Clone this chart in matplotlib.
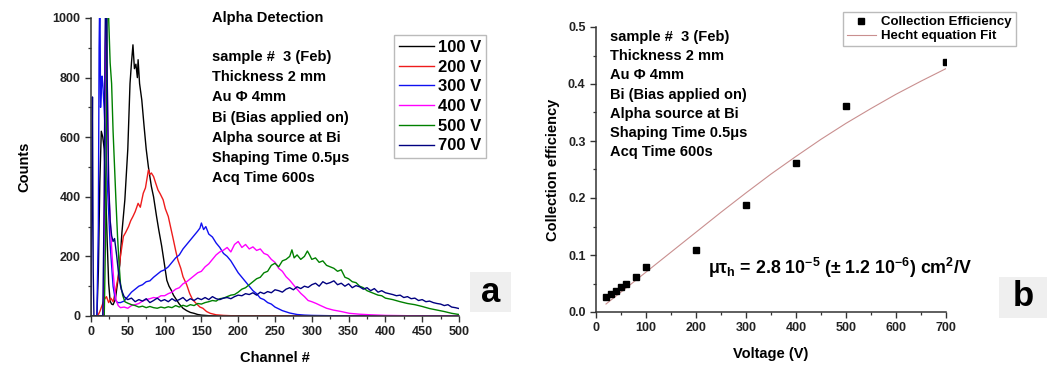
import matplotlib
matplotlib.use("Agg")
import matplotlib.pyplot as plt
from matplotlib.ticker import MultipleLocator, FormatStrFormatter
from matplotlib.patches import Rectangle

plt.rcParams['font.family'] = ['Liberation Sans', 'DejaVu Sans']
plt.rcParams['font.weight'] = 'bold'
plt.rcParams['mathtext.fontset'] = 'custom'
plt.rcParams['mathtext.rm'] = 'Liberation Sans:bold'
plt.rcParams['mathtext.bf'] = 'Liberation Sans:bold'
plt.rcParams['mathtext.it'] = 'Liberation Sans:bold'
plt.rcParams['mathtext.default'] = 'bf'

# ---------------- Panel a: spectra ----------------
ch_100 = [0, 5, 8, 10, 12, 14, 16, 18, 20, 22, 24, 26, 28, 30, 33, 36, 39, 42, 46, 50, 53, 55, 57, 59, 61,
          63, 64, 66, 69, 72, 75, 78, 82, 85, 89, 92, 96, 100, 103, 106, 109, 112, 116, 120, 125, 130,
          135, 140, 145, 150, 160, 170, 200, 300, 400, 500]
cnt_100 = [0, 0, 0, 150, 450, 620, 600, 560, 420, 250, 110, 50, 40, 38, 55, 110, 170, 280, 390, 560, 780,
           850, 910, 830, 845, 800, 860, 780, 725, 640, 560, 500, 435, 400, 335, 290, 235, 170, 120, 100,
           87, 70, 55, 40, 26, 18, 12, 9, 5, 3, 1, 0, 0, 0, 0, 0]

ch_200 = [0, 5, 8, 10, 12, 15, 18, 21, 24, 27, 30, 33, 37, 40, 44, 47, 51, 54, 57, 60, 64, 67, 71, 74, 78,
          80, 82, 85, 88, 91, 94, 98, 101, 105, 108, 112, 115, 118, 122, 125, 130, 134, 138, 143, 148,
          152, 157, 162, 170, 180, 200, 300, 400, 500]
cnt_200 = [0, 0, 0, 5, 15, 35, 55, 65, 45, 60, 48, 80, 132, 200, 267, 280, 300, 320, 334, 350, 378, 365,
           412, 430, 490, 475, 480, 468, 445, 423, 410, 390, 360, 334, 300, 255, 220, 188, 160, 132, 105,
           76, 55, 42, 30, 26, 15, 9, 4, 2, 0, 0, 0, 0]

ch_300 = [0, 6, 8, 10, 11, 12, 13, 14, 15, 16, 18, 20, 23, 26, 30, 33, 36, 40, 45, 50, 55, 60, 65, 70, 75,
          80, 85, 90, 95, 100, 105, 110, 115, 120, 125, 130, 135, 140, 145, 148, 150, 153, 156, 160, 165,
          170, 175, 180, 185, 190, 195, 200, 205, 210, 215, 220, 225, 230, 235, 240, 245, 250, 260, 270,
          280, 290, 300, 350, 400, 500]
cnt_300 = [0, 0, 0, 300, 900, 1100, 700, 760, 805, 780, 690, 580, 400, 240, 100, 55, 45, 45, 50, 65, 80,
           90, 100, 105, 115, 118, 130, 140, 150, 155, 165, 180, 195, 205, 225, 240, 255, 270, 285, 295,
           312, 290, 300, 275, 265, 245, 230, 210, 200, 185, 165, 145, 130, 115, 100, 85, 75, 60, 55, 45,
           40, 30, 18, 10, 5, 3, 2, 0, 0, 0]

ch_400 = [0, 17, 19, 20.5, 22, 24, 26, 28, 30, 32, 34, 37, 40, 45, 50, 55, 60, 65, 70, 75, 80, 85, 90, 95,
          100, 105, 110, 115, 120, 125, 130, 135, 140, 145, 150, 155, 160, 165, 170, 175, 180, 185, 190,
          195, 200, 205, 210, 215, 220, 225, 230, 235, 240, 245, 250, 255, 260, 265, 270, 275, 280, 285,
          290, 295, 300, 306, 312, 320, 329, 340, 351, 365, 380, 400, 430, 460, 500]
cnt_400 = [0, 0, 700, 1100, 800, 420, 330, 230, 150, 90, 54, 35, 28, 30, 26, 35, 38, 42, 50, 55, 58, 62,
           60, 68, 68, 75, 80, 90, 95, 108, 115, 125, 135, 145, 150, 165, 175, 190, 205, 215, 221, 230,
           215, 240, 250, 230, 240, 225, 232, 220, 225, 210, 205, 190, 180, 160, 150, 132, 120, 105, 90,
           76, 65, 52, 48, 42, 35, 26, 20, 15, 9, 6, 4, 2, 1, 0, 0]

ch_500 = [0, 18, 20, 22, 23, 24, 26, 28, 30, 32, 34, 36, 38, 40, 43, 46, 50, 55, 60, 65, 70, 75, 80, 85,
          90, 95, 100, 105, 110, 115, 120, 125, 130, 135, 140, 145, 150, 155, 160, 165, 170, 175, 180,
          185, 190, 195, 200, 205, 210, 215, 220, 225, 230, 235, 240, 245, 250, 255, 260, 265, 270, 273,
          276, 280, 285, 290, 294, 297, 300, 305, 310, 315, 320, 325, 330, 335, 340, 345, 350, 355, 360,
          365, 370, 375, 380, 385, 390, 395, 400, 410, 420, 430, 440, 450, 460, 470, 480, 490, 500]
cnt_500 = [0, 0, 300, 1100, 1100, 1000, 850, 780, 620, 500, 380, 270, 180, 110, 70, 48, 43, 38, 35, 30,
           33, 28, 32, 28, 26, 30, 27, 31, 28, 35, 30, 36, 32, 38, 35, 42, 40, 45, 48, 52, 50, 58, 60, 65,
           70, 72, 80, 90, 95, 105, 115, 125, 130, 145, 150, 170, 177, 165, 185, 190, 200, 222, 195, 205,
           190, 200, 218, 205, 190, 195, 180, 185, 170, 165, 160, 150, 155, 130, 125, 115, 112, 100, 95,
           85, 80, 75, 70, 68, 60, 55, 48, 42, 38, 32, 25, 20, 15, 9, 5]

ch_700 = [0, 1, 2, 3, 4, 6, 16, 18, 19, 20, 21, 22, 24, 26, 28, 30, 32, 35, 38, 41, 45] + list(range(50, 505, 5))
cnt_700 = [0, 400, 735, 150, 0, 0, 0, 400, 900, 1100, 1100, 800, 450, 320, 270, 250, 260, 200, 130, 90, 65,
           55, 60, 48, 55, 50, 58, 45, 52, 60, 50, 55, 48, 58, 50, 55, 62, 50, 58, 52, 60, 55, 62, 55, 65,
           58, 55, 60, 62, 58, 65, 70, 68, 75, 72, 78, 70, 80, 75, 82, 78, 88, 85, 80, 90, 95, 88, 98, 92,
           100, 96, 105, 110, 100, 115, 108, 112, 118, 105, 110, 100, 108, 95, 102, 98, 90, 95, 85, 92,
           80, 85, 78, 75, 72, 68, 70, 62, 65, 58, 60, 52, 55, 48, 50, 45, 42, 40, 35, 38, 30, 28, 25]

spectra_labels = ['100 V', '200 V', '300 V', '400 V', '500 V', '700 V']
spectra_colors = ['#000000', '#ee1c1c', '#1010f0', '#ff00ff', '#008000', '#000080']

info_lines = ['sample #  3 (Feb)', 'Thickness 2 mm', 'Au \u03a6 4mm', 'Bi (Bias applied on)',
              'Alpha source at Bi', 'Shaping Time 0.5\u03bcs', 'Acq Time 600s']

# ---------------- Panel b: collection efficiency ----------------
volt = [20, 30, 40, 50, 60, 80, 100, 200, 300, 400, 500, 700]
eff = [0.027, 0.032, 0.037, 0.043, 0.049, 0.062, 0.079, 0.108, 0.187, 0.261, 0.362, 0.438]
fit_volt = [20, 50, 100, 150, 200, 250, 300, 350, 400, 450, 500, 550, 600, 650, 700]
fit_eff = [0.014, 0.035, 0.070, 0.105, 0.140, 0.175, 0.209, 0.242, 0.273, 0.303, 0.331, 0.357, 0.382, 0.405, 0.427]

W, H = 1047, 365
fig = plt.figure(figsize=(W / 100, H / 100), dpi=100)

def fx(px):
    return px / W

def fy(py):
    return 1 - py / H

spine_col = '#333333'

# ---- Panel a ----
ax1 = fig.add_axes([fx(91), fy(316), fx(459 - 91), (316 - 18) / H])
series = [(ch_100, cnt_100), (ch_200, cnt_200), (ch_300, cnt_300),
          (ch_400, cnt_400), (ch_500, cnt_500), (ch_700, cnt_700)]
handles = []
for (c, n), lab, col in zip(series, spectra_labels, spectra_colors):
    h, = ax1.plot(c, n, color=col, lw=1.0, label=lab)
    handles.append(h)
ax1.set_xlim(0, 500)
ax1.set_ylim(0, 1000)
ax1.xaxis.set_major_locator(MultipleLocator(50))
ax1.xaxis.set_minor_locator(MultipleLocator(25))
ax1.yaxis.set_major_locator(MultipleLocator(200))
ax1.yaxis.set_minor_locator(MultipleLocator(100))
ax1.set_xlabel('Channel #', fontsize=10.5, fontweight='bold', labelpad=9)
ax1.set_ylabel('Counts', fontsize=10.5, fontweight='bold', labelpad=15)

leg1 = ax1.legend(handles=handles, loc='upper left', bbox_to_anchor=(fx(394), fy(35)),
                  bbox_transform=fig.transFigure, prop={'weight': 'bold', 'size': 12},
                  frameon=True, fancybox=False, edgecolor='#aaaaaa', handlelength=2.1,
                  handletextpad=0.25, labelspacing=0.28, borderpad=0.3, borderaxespad=0)
leg1.get_frame().set_linewidth(1.0)

fig.text(fx(212), fy(18), 'Alpha Detection', fontsize=10.5, fontweight='bold', va='center', ha='left')
for i, line in enumerate(info_lines):
    fig.text(fx(212), fy(57 + i * 20.2), line, fontsize=10.5, fontweight='bold', va='center', ha='left')

# ---- Panel b ----
ax2 = fig.add_axes([fx(596), fy(312), fx(946 - 596), (312 - 27) / H])
ax2.plot(fit_volt, fit_eff, color='#c98f8f', lw=0.8, label='Hecht equation Fit', zorder=2)
ax2.plot(volt, eff, 's', color='black', ms=4.5, label='Collection Efficiency', zorder=3)
ax2.set_xlim(0, 700)
ax2.set_ylim(0, 0.5)
ax2.xaxis.set_major_locator(MultipleLocator(100))
ax2.xaxis.set_minor_locator(MultipleLocator(50))
ax2.yaxis.set_major_locator(MultipleLocator(0.1))
ax2.yaxis.set_minor_locator(MultipleLocator(0.05))
ax2.yaxis.set_major_formatter(FormatStrFormatter('%.1f'))
ax2.set_xlabel('Voltage (V)', fontsize=10.5, fontweight='bold', labelpad=9)
ax2.set_ylabel('Collection efficiency', fontsize=10.5, fontweight='bold', labelpad=6)
h2 = ax2.get_legend_handles_labels()
leg2 = ax2.legend([h2[0][1], h2[0][0]], [h2[1][1], h2[1][0]], loc='upper left',
                  bbox_to_anchor=(fx(843), fy(12)), bbox_transform=fig.transFigure,
                  prop={'weight': 'bold', 'size': 9.5}, frameon=True, fancybox=False,
                  edgecolor='#aaaaaa', handlelength=2.2, handletextpad=0.4,
                  labelspacing=0.15, borderpad=0.3, borderaxespad=0)
leg2.get_frame().set_linewidth(1.0)

for i, line in enumerate(info_lines):
    fig.text(fx(610), fy(37 + i * 19.2), line, fontsize=10.5, fontweight='bold', va='center', ha='left')

fig.text(fx(708), fy(268), '\u03bc\u03c4$_h$ = 2.8 10$^{-5}$ (\u00b1 1.2 10$^{-6}$) cm$^2$/V',
         fontsize=12.8, fontweight='bold', va='center', ha='left')

for ax in (ax1, ax2):
    ax.spines['top'].set_visible(False)
    ax.spines['right'].set_visible(False)
    for s in ('left', 'bottom'):
        ax.spines[s].set_color(spine_col)
        ax.spines[s].set_linewidth(1.1)
    ax.tick_params(which='major', direction='out', length=4, width=1.0, colors=spine_col,
                   labelsize=9, labelcolor='#222222')
    ax.tick_params(which='minor', direction='out', length=2.5, width=0.9, colors=spine_col)
    for lbl in ax.get_xticklabels() + ax.get_yticklabels():
        lbl.set_fontweight('bold')

# panel letters
fig.patches.append(Rectangle((fx(470), fy(312)), fx(41), 40 / H, transform=fig.transFigure,
                             facecolor='#efefef', edgecolor='none'))
fig.text(fx(490.5), fy(292), 'a', fontsize=25, fontweight='bold', ha='center', va='center')
fig.patches.append(Rectangle((fx(999), fy(318)), fx(48), 41 / H, transform=fig.transFigure,
                             facecolor='#efefef', edgecolor='none'))
fig.text(fx(1023), fy(297), 'b', fontsize=25, fontweight='bold', ha='center', va='center')

fig.savefig('out.png', dpi=100)
